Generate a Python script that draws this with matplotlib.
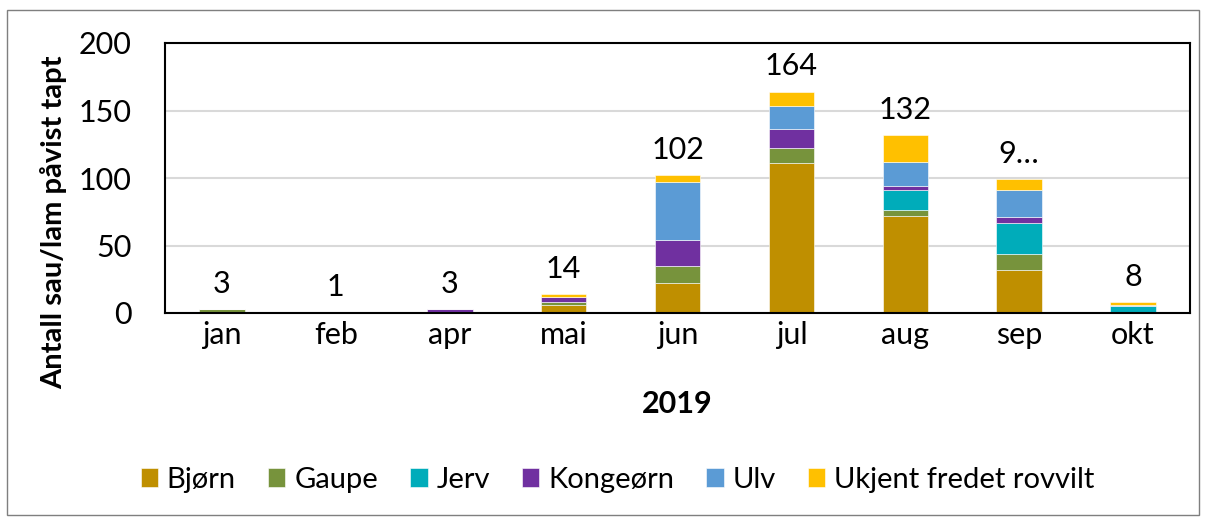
import matplotlib
matplotlib.use("Agg")
import matplotlib.pyplot as plt
import numpy as np

months = ["jan", "feb", "apr", "mai", "jun", "jul", "aug", "sep", "okt"]
bjorn    = [0, 0, 0, 6, 22, 111, 72, 32, 0]
gaupe    = [3, 1, 0, 2, 13, 11, 4, 12, 0]
jerv     = [0, 0, 0, 0, 0, 0, 15, 23, 5]
kongeorn = [0, 0, 3, 4, 19, 14, 3, 4, 0]
ulv      = [0, 0, 0, 0, 43, 17, 18, 20, 1]
ukjent   = [0, 0, 0, 2, 5, 11, 20, 8, 2]
total_labels = ["3", "1", "3", "14", "102", "164", "132", "9…", "8"]

series = [
    ("Bjørn", bjorn, "#BF8F00"),
    ("Gaupe", gaupe, "#77933C"),
    ("Jerv", jerv, "#00ACBA"),
    ("Kongeørn", kongeorn, "#7030A0"),
    ("Ulv", ulv, "#5B9BD5"),
    ("Ukjent fredet rovvilt", ukjent, "#FFC000"),
]

plt.rcParams['font.family'] = ['Lato', 'DejaVu Sans']
FS = 22

fig = plt.figure(figsize=(12.06, 5.17), dpi=100)
ax = fig.add_axes([165/1206, 1 - 313/517, (1190-165)/1206, (313-43)/517])

x = np.arange(len(months))
bottom = np.zeros(len(months))
for name, vals, col in series:
    v = np.array(vals, dtype=float)
    ax.bar(x, v, 0.4, bottom=bottom, color=col, label=name, edgecolor="white", linewidth=0.4)
    bottom += v

for xi, tot, lab in zip(x, bottom, total_labels):
    ax.annotate(lab, (xi, tot), xytext=(0, 8), textcoords="offset points",
                ha="center", va="bottom", fontsize=FS, color="black")

ax.set_ylim(0, 200)
ax.set_xlim(-0.5, len(months) - 0.5)
ax.set_yticks([0, 50, 100, 150, 200])
ax.tick_params(axis="y", labelsize=FS, length=0, pad=24)
ax.tick_params(axis="x", labelsize=FS, length=0, pad=6)
ax.set_xticks(x)
ax.set_xticklabels(months)
ax.yaxis.grid(True, color="#D9D9D9", linewidth=1.5)
ax.set_axisbelow(True)
for s in ax.spines.values():
    s.set_color("black")
    s.set_linewidth(1.5)

ax.set_ylabel("Antall sau/lam påvist tapt", fontsize=21, fontweight="bold")
ax.yaxis.set_label_coords(-0.095, 0.335)
ax.set_xlabel("2019", fontsize=FS, fontweight="bold", labelpad=29)

handles, labels = ax.get_legend_handles_labels()
fig.legend(handles, labels, loc="center", bbox_to_anchor=(0.512, 1 - 480/517), ncol=6,
           frameon=False, fontsize=21, handlelength=0.6, handleheight=0.6,
           handletextpad=0.3, columnspacing=1.1)

border = plt.Rectangle((7/1206, 2/517), 1192/1206, 505/517, transform=fig.transFigure,
                       fill=False, edgecolor="#7F7F7F", linewidth=1)
fig.patches.append(border)

fig.savefig("out.png", dpi=100)
